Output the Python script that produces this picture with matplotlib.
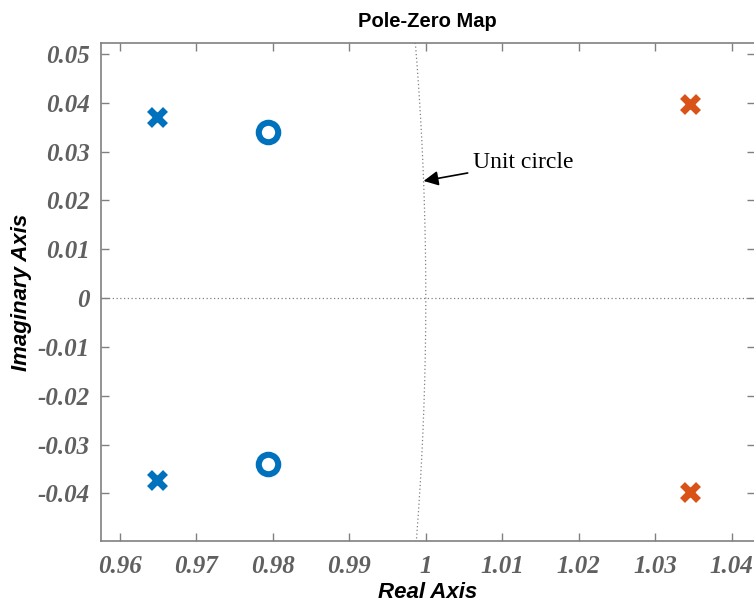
import numpy as np
import matplotlib
matplotlib.use("Agg")
import matplotlib.pyplot as plt

# --- data ---
blue_pole_re = [0.9649, 0.9649]
blue_pole_im = [0.0372, -0.0372]
zero_re = [0.9794, 0.9794]
zero_im = [0.0340, -0.0340]
red_pole_re = [1.0346, 1.0346]
red_pole_im = [0.0398, -0.0398]

x_ticks = [0.96, 0.97, 0.98, 0.99, 1.0, 1.01, 1.02, 1.03, 1.04]
x_labels = ["0.96", "0.97", "0.98", "0.99", "1", "1.01", "1.02", "1.03", "1.04"]
y_ticks = [-0.04, -0.03, -0.02, -0.01, 0.0, 0.01, 0.02, 0.03, 0.04, 0.05]
y_labels = ["-0.04", "-0.03", "-0.02", "-0.01", "0", "0.01", "0.02", "0.03", "0.04", "0.05"]

BLUE = "#0072BD"
ORANGE = "#D95319"
AXCOL = "#808080"
TICKCOL = "#606060"

fig = plt.figure(figsize=(7.54, 6.07), dpi=100)
ax = fig.add_axes([101 / 754, 66.3 / 607, 653.5 / 754, 497.4 / 607])

ax.set_xlim(0.95751, 1.0430)
ax.set_ylim(-0.0497, 0.0522)

# grid / unit circle
ax.axhline(0, color="#808080", linestyle=(0, (1, 2)), linewidth=0.9, zorder=1)
th = np.linspace(-0.06, 0.06, 400)
ax.plot(np.cos(th), np.sin(th), color="#808080", linestyle=(0, (1, 2)),
        linewidth=0.9, zorder=1)

# poles and zeros
ax.plot(blue_pole_re, blue_pole_im, linestyle="none", marker="x", markersize=11,
        mew=5, color=BLUE, zorder=3)
ax.plot(zero_re, zero_im, linestyle="none", marker="o", markersize=14,
        mew=4.4, color=BLUE, markerfacecolor="white", zorder=3)
ax.plot(red_pole_re, red_pole_im, linestyle="none", marker="x", markersize=11,
        mew=5, color=ORANGE, zorder=3)

# annotation
ay = 0.0240
ax.annotate("Unit circle", xy=(np.sqrt(1 - ay ** 2), ay), xytext=(1.0062, 0.0277),
            fontsize=17, family="Liberation Serif", va="center", ha="left",
            arrowprops=dict(arrowstyle="-|>", color="black", lw=1.2,
                            mutation_scale=22, shrinkA=2, shrinkB=0))

# ticks
ax.set_xticks(x_ticks)
ax.set_xticklabels(x_labels)
ax.set_yticks(y_ticks)
ax.set_yticklabels(y_labels)
ax.tick_params(direction="in", length=6, width=1, color=AXCOL,
               top=True, right=True, pad=8)
ax.tick_params(axis="x", pad=10)
for lab in ax.get_xticklabels() + ax.get_yticklabels():
    lab.set_family("Liberation Serif")
    lab.set_style("italic")
    lab.set_weight("bold")
    lab.set_fontsize(18)
    lab.set_color(TICKCOL)
for s in ax.spines.values():
    s.set_color(AXCOL)
    s.set_linewidth(1.2)

ax.set_title("Pole-Zero Map", fontsize=14.5, fontweight="bold",
             family="Liberation Sans", pad=12)
ax.set_xlabel("Real Axis", fontsize=16, fontweight="bold", style="italic",
              family="Liberation Sans", labelpad=3)
ax.set_ylabel("Imaginary Axis", fontsize=16, fontweight="bold", style="italic",
              family="Liberation Sans", labelpad=4)

fig.savefig("out.png", dpi=100)
